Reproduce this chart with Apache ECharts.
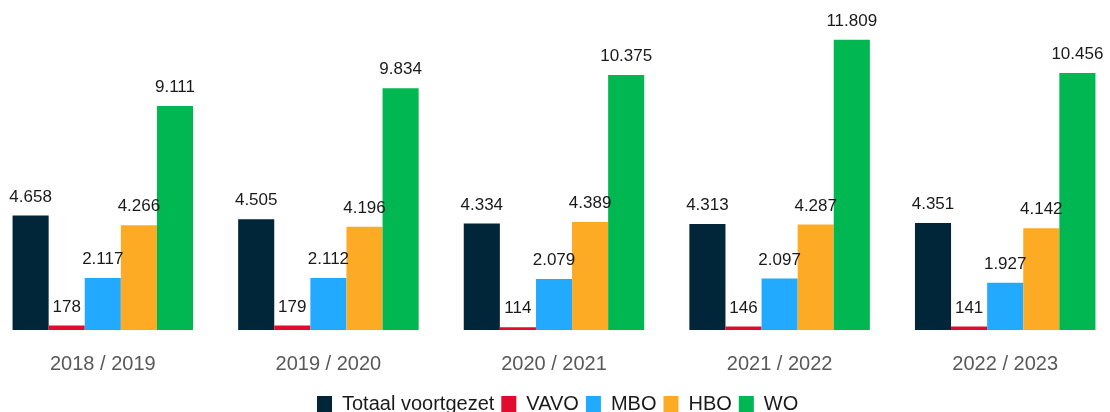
<!DOCTYPE html>
<html>
<head>
<meta charset="utf-8">
<style>
  html, body { margin: 0; padding: 0; background: #ffffff; overflow: hidden; }
  #wrap { position: relative; width: 1110px; height: 412px; overflow: hidden; }
  /* the plot bleeds a little past both edges of the page */
  #chart { position: absolute; left: -10px; top: 0; width: 1128px; height: 412px; }
</style>
<script src="https://cdn.jsdelivr.net/npm/echarts@6/dist/echarts.min.js"></script>
</head>
<body>
<div id="wrap"><div id="chart"></div></div>
<script>
// School years on the category axis
const years = ['2018 / 2019', '2019 / 2020', '2020 / 2021', '2021 / 2022', '2022 / 2023'];

// Number of students per follow-up education type
const totaalVoortgezet = [4658, 4505, 4334, 4313, 4351];
const vavo = [178, 179, 114, 146, 141];
const mbo = [2117, 2112, 2079, 2097, 1927];
const hbo = [4266, 4196, 4389, 4287, 4142];
const wo = [9111, 9834, 10375, 11809, 10456];

const seriesNames = ['Totaal voortgezet', 'VAVO', 'MBO', 'HBO', 'WO'];
const seriesData = [totaalVoortgezet, vavo, mbo, hbo, wo];
const seriesColors = ['#012639', '#e30a2f', '#21aaff', '#fdab25', '#00b752'];

// Dutch thousands separator
function fmt(v) {
  return String(v).replace(/\B(?=(\d{3})+(?!\d))/g, '.');
}

const FONT = '"Liberation Sans", Arial, sans-serif';

const chart = echarts.init(document.getElementById('chart'), null, { renderer: 'canvas' });

chart.setOption({
  animation: false,
  backgroundColor: '#ffffff',
  grid: { left: 0, right: 0, top: 35, bottom: 82, containLabel: false },
  legend: {
    data: seriesNames,
    top: 394,
    left: 327,
    padding: 0,
    icon: 'rect',
    itemWidth: 15,
    itemHeight: 16,
    itemGap: 7,
    textStyle: {
      fontFamily: FONT,
      fontSize: 20,
      color: '#1a1a1a',
      padding: [0, 0, 0, 5]
    }
  },
  xAxis: {
    type: 'category',
    data: years,
    axisLine: { show: false },
    axisTick: { show: false },
    axisLabel: {
      margin: 24,
      fontFamily: FONT,
      fontSize: 20,
      color: '#595959'
    }
  },
  yAxis: {
    type: 'value',
    min: 0,
    max: 12000,
    show: false,
    splitLine: { show: false }
  },
  series: seriesNames.map((name, i) => ({
    name: name,
    type: 'bar',
    data: seriesData[i],
    barGap: '0%',
    barCategoryGap: '20%',
    itemStyle: { color: seriesColors[i] },
    label: {
      show: true,
      position: 'top',
      distance: 10,
      fontFamily: FONT,
      fontSize: 17,
      color: '#1a1a1a',
      formatter: p => fmt(p.value)
    }
  }))
});
</script>
</body>
</html>
